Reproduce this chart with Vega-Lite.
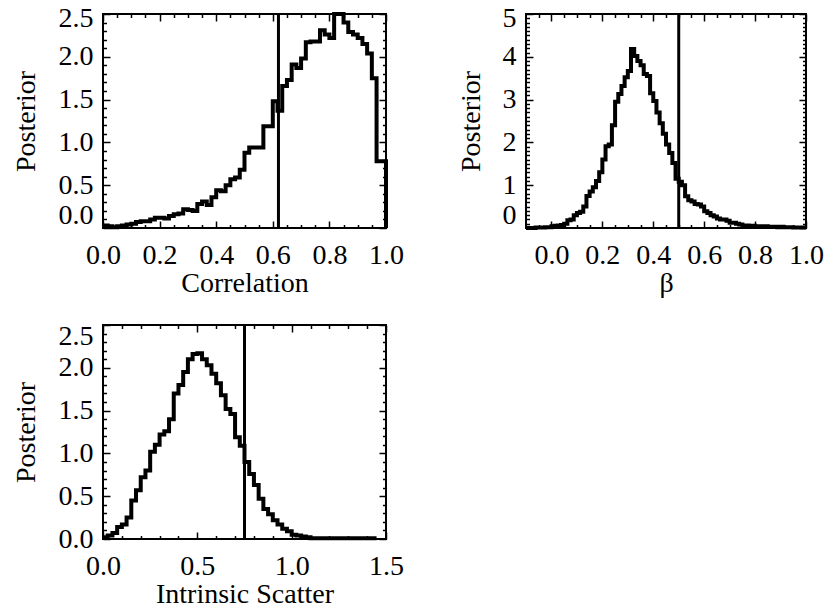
{
 "$schema": "https://vega.github.io/schema/vega-lite/v6.json",
 "background": "white",
 "padding": {"left": 11, "top": 3, "right": 5, "bottom": 5},
 "config": {
  "view": {"stroke": "black", "strokeWidth": 2},
  "axis": {"labelFont": "Liberation Serif", "labelFontSize": 28, "titleFont": "Liberation Serif", "titleFontSize": 28, "titleFontWeight": "normal", "labelColor": "black", "titleColor": "black", "tickColor": "black", "tickWidth": 1.5, "domain": false, "grid": false, "labelOverlap": false, "labelFlush": false},
  "axisX": {"labelPadding": 20, "titlePadding": 0},
  "axisY": {"labelPadding": 17, "titlePadding": 18}
 },
 "datasets": {
  "corr": [
   {"x":0,"y":0.03},{"x":0.0167,"y":0.02},{"x":0.0333,"y":0.01},{"x":0.05,"y":0.02},{"x":0.0667,"y":0.03},{"x":0.0833,"y":0.04},{"x":0.1,"y":0.05},{"x":0.1167,"y":0.07},{"x":0.1333,"y":0.08},{"x":0.15,"y":0.08},
   {"x":0.1667,"y":0.1},{"x":0.1833,"y":0.12},{"x":0.2,"y":0.12},{"x":0.2167,"y":0.11},{"x":0.2333,"y":0.14},{"x":0.25,"y":0.16},{"x":0.2667,"y":0.17},{"x":0.2833,"y":0.22},{"x":0.3,"y":0.21},{"x":0.3167,"y":0.2},
   {"x":0.3333,"y":0.28},{"x":0.35,"y":0.31},{"x":0.3667,"y":0.27},{"x":0.3833,"y":0.36},{"x":0.4,"y":0.44},{"x":0.4167,"y":0.43},{"x":0.4333,"y":0.5},{"x":0.45,"y":0.57},{"x":0.4667,"y":0.59},{"x":0.4833,"y":0.68},
   {"x":0.5,"y":0.88},{"x":0.5167,"y":0.94},{"x":0.5333,"y":0.94},{"x":0.55,"y":0.94},{"x":0.5667,"y":1.19},{"x":0.5833,"y":1.19},{"x":0.6,"y":1.48},{"x":0.6167,"y":1.37},{"x":0.6333,"y":1.66},{"x":0.65,"y":1.73},
   {"x":0.6667,"y":1.91},{"x":0.6833,"y":1.87},{"x":0.7,"y":1.98},{"x":0.7167,"y":2.17},{"x":0.7333,"y":2.18},{"x":0.75,"y":2.18},{"x":0.7667,"y":2.31},{"x":0.7833,"y":2.26},{"x":0.8,"y":2.22},{"x":0.8167,"y":2.5},
   {"x":0.8333,"y":2.5},{"x":0.85,"y":2.4},{"x":0.8667,"y":2.29},{"x":0.8833,"y":2.26},{"x":0.9,"y":2.22},{"x":0.9167,"y":2.15},{"x":0.9333,"y":2.04},{"x":0.95,"y":1.75},{"x":0.9667,"y":0.78},{"x":0.9833,"y":0.78},
   {"x":0.9999,"y":0.78},{"x":1.0,"y":0}
  ],
  "beta": [
   {"x":-0.1,"y":0},{"x":-0.0875,"y":0},{"x":-0.075,"y":0},{"x":-0.0625,"y":0.01},{"x":-0.05,"y":0.01},{"x":-0.0375,"y":0.01},{"x":-0.025,"y":0.02},{"x":-0.0125,"y":0.02},
   {"x":0,"y":0.04},{"x":0.0125,"y":0.05},{"x":0.025,"y":0.06},{"x":0.0375,"y":0.07},{"x":0.05,"y":0.1},{"x":0.0625,"y":0.18},{"x":0.075,"y":0.2},{"x":0.0875,"y":0.3},
   {"x":0.1,"y":0.35},{"x":0.1125,"y":0.38},{"x":0.125,"y":0.5},{"x":0.1375,"y":0.75},{"x":0.15,"y":0.85},{"x":0.1625,"y":0.95},{"x":0.175,"y":1.1},{"x":0.1875,"y":1.3},
   {"x":0.2,"y":1.6},{"x":0.2125,"y":1.91},{"x":0.225,"y":1.95},{"x":0.2375,"y":2.4},{"x":0.25,"y":2.95},{"x":0.2625,"y":3.13},{"x":0.275,"y":3.32},{"x":0.2875,"y":3.52},
   {"x":0.3,"y":3.67},{"x":0.3125,"y":4.18},{"x":0.325,"y":4.02},{"x":0.3375,"y":3.9},{"x":0.35,"y":3.8},{"x":0.3625,"y":3.6},{"x":0.375,"y":3.55},{"x":0.3875,"y":3.15},
   {"x":0.4,"y":2.97},{"x":0.4125,"y":2.7},{"x":0.425,"y":2.45},{"x":0.4375,"y":2.2},{"x":0.45,"y":1.95},{"x":0.4625,"y":1.75},{"x":0.475,"y":1.52},{"x":0.4875,"y":1.15},
   {"x":0.5,"y":1.08},{"x":0.5125,"y":1.0},{"x":0.525,"y":0.74},{"x":0.5375,"y":0.65},{"x":0.55,"y":0.62},{"x":0.5625,"y":0.56},{"x":0.575,"y":0.55},{"x":0.5875,"y":0.5},
   {"x":0.6,"y":0.39},{"x":0.6125,"y":0.35},{"x":0.625,"y":0.3},{"x":0.6375,"y":0.27},{"x":0.65,"y":0.22},{"x":0.6625,"y":0.2},{"x":0.675,"y":0.2},{"x":0.6875,"y":0.17},
   {"x":0.7,"y":0.12},{"x":0.7125,"y":0.12},{"x":0.725,"y":0.1},{"x":0.7375,"y":0.08},{"x":0.75,"y":0.06},{"x":0.7625,"y":0.06},{"x":0.775,"y":0.05},{"x":0.7875,"y":0.05},
   {"x":0.8,"y":0.04},{"x":0.8125,"y":0.04},{"x":0.825,"y":0.03},{"x":0.8375,"y":0.04},{"x":0.85,"y":0.03},{"x":0.8625,"y":0.03},{"x":0.875,"y":0.03},{"x":0.8875,"y":0.02},
   {"x":0.9,"y":0.03},{"x":0.9125,"y":0.02},{"x":0.925,"y":0.02},{"x":0.9375,"y":0.02},{"x":0.95,"y":0.01},{"x":0.9625,"y":0.01},{"x":0.975,"y":0.01},{"x":0.9875,"y":0.01},
   {"x":1.0,"y":0.01}
  ],
  "scat": [
   {"x":0,"y":0.02},{"x":0.025,"y":0.04},{"x":0.05,"y":0.07},{"x":0.075,"y":0.14},{"x":0.1,"y":0.17},{"x":0.125,"y":0.25},{"x":0.15,"y":0.45},{"x":0.175,"y":0.57},
   {"x":0.2,"y":0.72},{"x":0.225,"y":0.8},{"x":0.25,"y":1.02},{"x":0.275,"y":1.1},{"x":0.3,"y":1.22},{"x":0.325,"y":1.26},{"x":0.35,"y":1.4},{"x":0.375,"y":1.7},
   {"x":0.4,"y":1.8},{"x":0.425,"y":1.95},{"x":0.45,"y":2.1},{"x":0.475,"y":2.16},{"x":0.5,"y":2.17},{"x":0.525,"y":2.1},{"x":0.55,"y":2.03},{"x":0.575,"y":1.93},
   {"x":0.6,"y":1.82},{"x":0.625,"y":1.68},{"x":0.65,"y":1.52},{"x":0.675,"y":1.46},{"x":0.7,"y":1.19},{"x":0.725,"y":1.09},{"x":0.75,"y":0.9},{"x":0.775,"y":0.76},
   {"x":0.8,"y":0.63},{"x":0.825,"y":0.47},{"x":0.85,"y":0.35},{"x":0.875,"y":0.29},{"x":0.9,"y":0.22},{"x":0.925,"y":0.17},{"x":0.95,"y":0.12},{"x":0.975,"y":0.09},
   {"x":1.0,"y":0.05},{"x":1.025,"y":0.04},{"x":1.05,"y":0.03},{"x":1.075,"y":0.02},{"x":1.1,"y":0.01},{"x":1.2,"y":0.01},{"x":1.3,"y":0.01},{"x":1.45,"y":0.01}
  ]
 },
 "columns": 2,
 "spacing": {"row": 97, "column": 140},
 "bounds": "flush",
 "concat": [
  {
   "width": 283, "height": 214,
   "resolve": {"axis": {"x": "independent", "y": "independent"}},
   "layer": [
    {"data": {"name": "corr"}, "mark": {"type": "line", "interpolate": "step-after", "color": "black", "strokeWidth": 4},
     "encoding": {
      "x": {"field": "x", "type": "quantitative", "scale": {"domain": [0, 1], "nice": false, "zero": false},
            "axis": {"orient": "bottom", "values": [0,0.2,0.4,0.6,0.8,1], "format": ".1f", "tickSize": -7, "title": "Correlation"}},
      "y": {"field": "y", "type": "quantitative", "scale": {"domain": [0, 2.5], "nice": false, "zero": false},
            "axis": {"orient": "left", "values": [0,0.5,1,1.5,2,2.5], "format": ".1f", "tickSize": -7, "title": "Posterior",
                     "labelOffset": {"condition": [{"test": "datum.value === 0", "value": -13}, {"test": "datum.value === 2.5", "value": 4}], "value": 0}}}
     }},
    {"data": {"name": "corr"}, "mark": {"type": "point", "opacity": 0},
     "encoding": {
      "x": {"field": "x", "type": "quantitative", "scale": {"domain": [0, 1], "nice": false, "zero": false},
            "axis": {"orient": "bottom", "values": [0.05,0.1,0.15,0.25,0.3,0.35,0.45,0.5,0.55,0.65,0.7,0.75,0.85,0.9,0.95], "labels": false, "tickSize": -3.5, "title": null}},
      "y": {"field": "y", "type": "quantitative", "scale": {"domain": [0, 2.5], "nice": false, "zero": false},
            "axis": {"orient": "left", "values": [0.1,0.2,0.3,0.4,0.6,0.7,0.8,0.9,1.1,1.2,1.3,1.4,1.6,1.7,1.8,1.9,2.1,2.2,2.3,2.4], "labels": false, "tickSize": -3.5, "title": null}}
     }},
    {"data": {"name": "corr"}, "mark": {"type": "point", "opacity": 0},
     "encoding": {
      "x": {"field": "x", "type": "quantitative", "scale": {"domain": [0, 1], "nice": false, "zero": false},
            "axis": {"orient": "top", "values": [0,0.2,0.4,0.6,0.8,1], "labels": false, "tickSize": -7, "title": null}},
      "y": {"field": "y", "type": "quantitative", "scale": {"domain": [0, 2.5], "nice": false, "zero": false},
            "axis": {"orient": "right", "values": [0,0.5,1,1.5,2,2.5], "labels": false, "tickSize": -7, "title": null}}
     }},
    {"data": {"name": "corr"}, "mark": {"type": "point", "opacity": 0},
     "encoding": {
      "x": {"field": "x", "type": "quantitative", "scale": {"domain": [0, 1], "nice": false, "zero": false},
            "axis": {"orient": "top", "values": [0.05,0.1,0.15,0.25,0.3,0.35,0.45,0.5,0.55,0.65,0.7,0.75,0.85,0.9,0.95], "labels": false, "tickSize": -3.5, "title": null}},
      "y": {"field": "y", "type": "quantitative", "scale": {"domain": [0, 2.5], "nice": false, "zero": false},
            "axis": {"orient": "right", "values": [0.1,0.2,0.3,0.4,0.6,0.7,0.8,0.9,1.1,1.2,1.3,1.4,1.6,1.7,1.8,1.9,2.1,2.2,2.3,2.4], "labels": false, "tickSize": -3.5, "title": null}}
     }},
    {"data": {"values": [{"x": 0.62}]}, "mark": {"type": "rule", "color": "black", "strokeWidth": 3},
     "encoding": {"x": {"field": "x", "type": "quantitative", "scale": {"domain": [0, 1], "nice": false, "zero": false}, "axis": null}}}
   ]
  },
  {
   "width": 280, "height": 214,
   "resolve": {"axis": {"x": "independent", "y": "independent"}},
   "layer": [
    {"data": {"name": "beta"}, "mark": {"type": "line", "interpolate": "step-after", "color": "black", "strokeWidth": 4},
     "encoding": {
      "x": {"field": "x", "type": "quantitative", "scale": {"domain": [-0.1, 1], "nice": false, "zero": false},
            "axis": {"orient": "bottom", "values": [0,0.2,0.4,0.6,0.8,1], "format": ".1f", "tickSize": -7, "title": "β"}},
      "y": {"field": "y", "type": "quantitative", "scale": {"domain": [0, 5], "nice": false, "zero": false},
            "axis": {"orient": "left", "values": [0,1,2,3,4,5], "format": "d", "tickSize": -7, "title": "Posterior", "titlePadding": 17,
                     "labelOffset": {"condition": [{"test": "datum.value === 0", "value": -13}, {"test": "datum.value === 5", "value": 4}], "value": 0}}}
     }},
    {"data": {"name": "beta"}, "mark": {"type": "point", "opacity": 0},
     "encoding": {
      "x": {"field": "x", "type": "quantitative", "scale": {"domain": [-0.1, 1], "nice": false, "zero": false},
            "axis": {"orient": "bottom", "values": [-0.05,0.05,0.1,0.15,0.25,0.3,0.35,0.45,0.5,0.55,0.65,0.7,0.75,0.85,0.9,0.95], "labels": false, "tickSize": -3.5, "title": null}},
      "y": {"field": "y", "type": "quantitative", "scale": {"domain": [0, 5], "nice": false, "zero": false},
            "axis": {"orient": "left", "values": [0.1,0.2,0.3,0.4,0.5,0.6,0.7,0.8,0.9,1.1,1.2,1.3,1.4,1.5,1.6,1.7,1.8,1.9,2.1,2.2,2.3,2.4,2.5,2.6,2.7,2.8,2.9,3.1,3.2,3.3,3.4,3.5,3.6,3.7,3.8,3.9,4.1,4.2,4.3,4.4,4.5,4.6,4.7,4.8,4.9], "labels": false, "tickSize": -3.5, "title": null}}
     }},
    {"data": {"name": "beta"}, "mark": {"type": "point", "opacity": 0},
     "encoding": {
      "x": {"field": "x", "type": "quantitative", "scale": {"domain": [-0.1, 1], "nice": false, "zero": false},
            "axis": {"orient": "top", "values": [0,0.2,0.4,0.6,0.8,1], "labels": false, "tickSize": -7, "title": null}},
      "y": {"field": "y", "type": "quantitative", "scale": {"domain": [0, 5], "nice": false, "zero": false},
            "axis": {"orient": "right", "values": [0,1,2,3,4,5], "labels": false, "tickSize": -7, "title": null}}
     }},
    {"data": {"name": "beta"}, "mark": {"type": "point", "opacity": 0},
     "encoding": {
      "x": {"field": "x", "type": "quantitative", "scale": {"domain": [-0.1, 1], "nice": false, "zero": false},
            "axis": {"orient": "top", "values": [-0.05,0.05,0.1,0.15,0.25,0.3,0.35,0.45,0.5,0.55,0.65,0.7,0.75,0.85,0.9,0.95], "labels": false, "tickSize": -3.5, "title": null}},
      "y": {"field": "y", "type": "quantitative", "scale": {"domain": [0, 5], "nice": false, "zero": false},
            "axis": {"orient": "right", "values": [0.1,0.2,0.3,0.4,0.5,0.6,0.7,0.8,0.9,1.1,1.2,1.3,1.4,1.5,1.6,1.7,1.8,1.9,2.1,2.2,2.3,2.4,2.5,2.6,2.7,2.8,2.9,3.1,3.2,3.3,3.4,3.5,3.6,3.7,3.8,3.9,4.1,4.2,4.3,4.4,4.5,4.6,4.7,4.8,4.9], "labels": false, "tickSize": -3.5, "title": null}}
     }},
    {"data": {"values": [{"x": 0.5}]}, "mark": {"type": "rule", "color": "black", "strokeWidth": 3},
     "encoding": {"x": {"field": "x", "type": "quantitative", "scale": {"domain": [-0.1, 1], "nice": false, "zero": false}, "axis": null}}}
   ]
  },
  {
   "width": 283, "height": 214,
   "resolve": {"axis": {"x": "independent", "y": "independent"}},
   "layer": [
    {"data": {"name": "scat"}, "mark": {"type": "line", "interpolate": "step-after", "color": "black", "strokeWidth": 4},
     "encoding": {
      "x": {"field": "x", "type": "quantitative", "scale": {"domain": [0, 1.5], "nice": false, "zero": false},
            "axis": {"orient": "bottom", "values": [0,0.5,1,1.5], "format": ".1f", "tickSize": -7, "title": "Intrinsic Scatter"}},
      "y": {"field": "y", "type": "quantitative", "scale": {"domain": [0, 2.5], "nice": false, "zero": false},
            "axis": {"orient": "left", "values": [0,0.5,1,1.5,2,2.5], "format": ".1f", "tickSize": -7, "title": "Posterior",
                     "labelOffset": {"condition": [{"test": "datum.value === 2.5", "value": 11}], "value": 0}}}
     }},
    {"data": {"name": "scat"}, "mark": {"type": "point", "opacity": 0},
     "encoding": {
      "x": {"field": "x", "type": "quantitative", "scale": {"domain": [0, 1.5], "nice": false, "zero": false},
            "axis": {"orient": "bottom", "values": [0.1,0.2,0.3,0.4,0.6,0.7,0.8,0.9,1.1,1.2,1.3,1.4], "labels": false, "tickSize": -3.5, "title": null}},
      "y": {"field": "y", "type": "quantitative", "scale": {"domain": [0, 2.5], "nice": false, "zero": false},
            "axis": {"orient": "left", "values": [0.1,0.2,0.3,0.4,0.6,0.7,0.8,0.9,1.1,1.2,1.3,1.4,1.6,1.7,1.8,1.9,2.1,2.2,2.3,2.4], "labels": false, "tickSize": -3.5, "title": null}}
     }},
    {"data": {"name": "scat"}, "mark": {"type": "point", "opacity": 0},
     "encoding": {
      "x": {"field": "x", "type": "quantitative", "scale": {"domain": [0, 1.5], "nice": false, "zero": false},
            "axis": {"orient": "top", "values": [0,0.5,1,1.5], "labels": false, "tickSize": -7, "title": null}},
      "y": {"field": "y", "type": "quantitative", "scale": {"domain": [0, 2.5], "nice": false, "zero": false},
            "axis": {"orient": "right", "values": [0,0.5,1,1.5,2,2.5], "labels": false, "tickSize": -7, "title": null}}
     }},
    {"data": {"name": "scat"}, "mark": {"type": "point", "opacity": 0},
     "encoding": {
      "x": {"field": "x", "type": "quantitative", "scale": {"domain": [0, 1.5], "nice": false, "zero": false},
            "axis": {"orient": "top", "values": [0.1,0.2,0.3,0.4,0.6,0.7,0.8,0.9,1.1,1.2,1.3,1.4], "labels": false, "tickSize": -3.5, "title": null}},
      "y": {"field": "y", "type": "quantitative", "scale": {"domain": [0, 2.5], "nice": false, "zero": false},
            "axis": {"orient": "right", "values": [0.1,0.2,0.3,0.4,0.6,0.7,0.8,0.9,1.1,1.2,1.3,1.4,1.6,1.7,1.8,1.9,2.1,2.2,2.3,2.4], "labels": false, "tickSize": -3.5, "title": null}}
     }},
    {"data": {"values": [{"x": 0.75}]}, "mark": {"type": "rule", "color": "black", "strokeWidth": 3},
     "encoding": {"x": {"field": "x", "type": "quantitative", "scale": {"domain": [0, 1.5], "nice": false, "zero": false}, "axis": null}}}
   ]
  }
 ]
}
